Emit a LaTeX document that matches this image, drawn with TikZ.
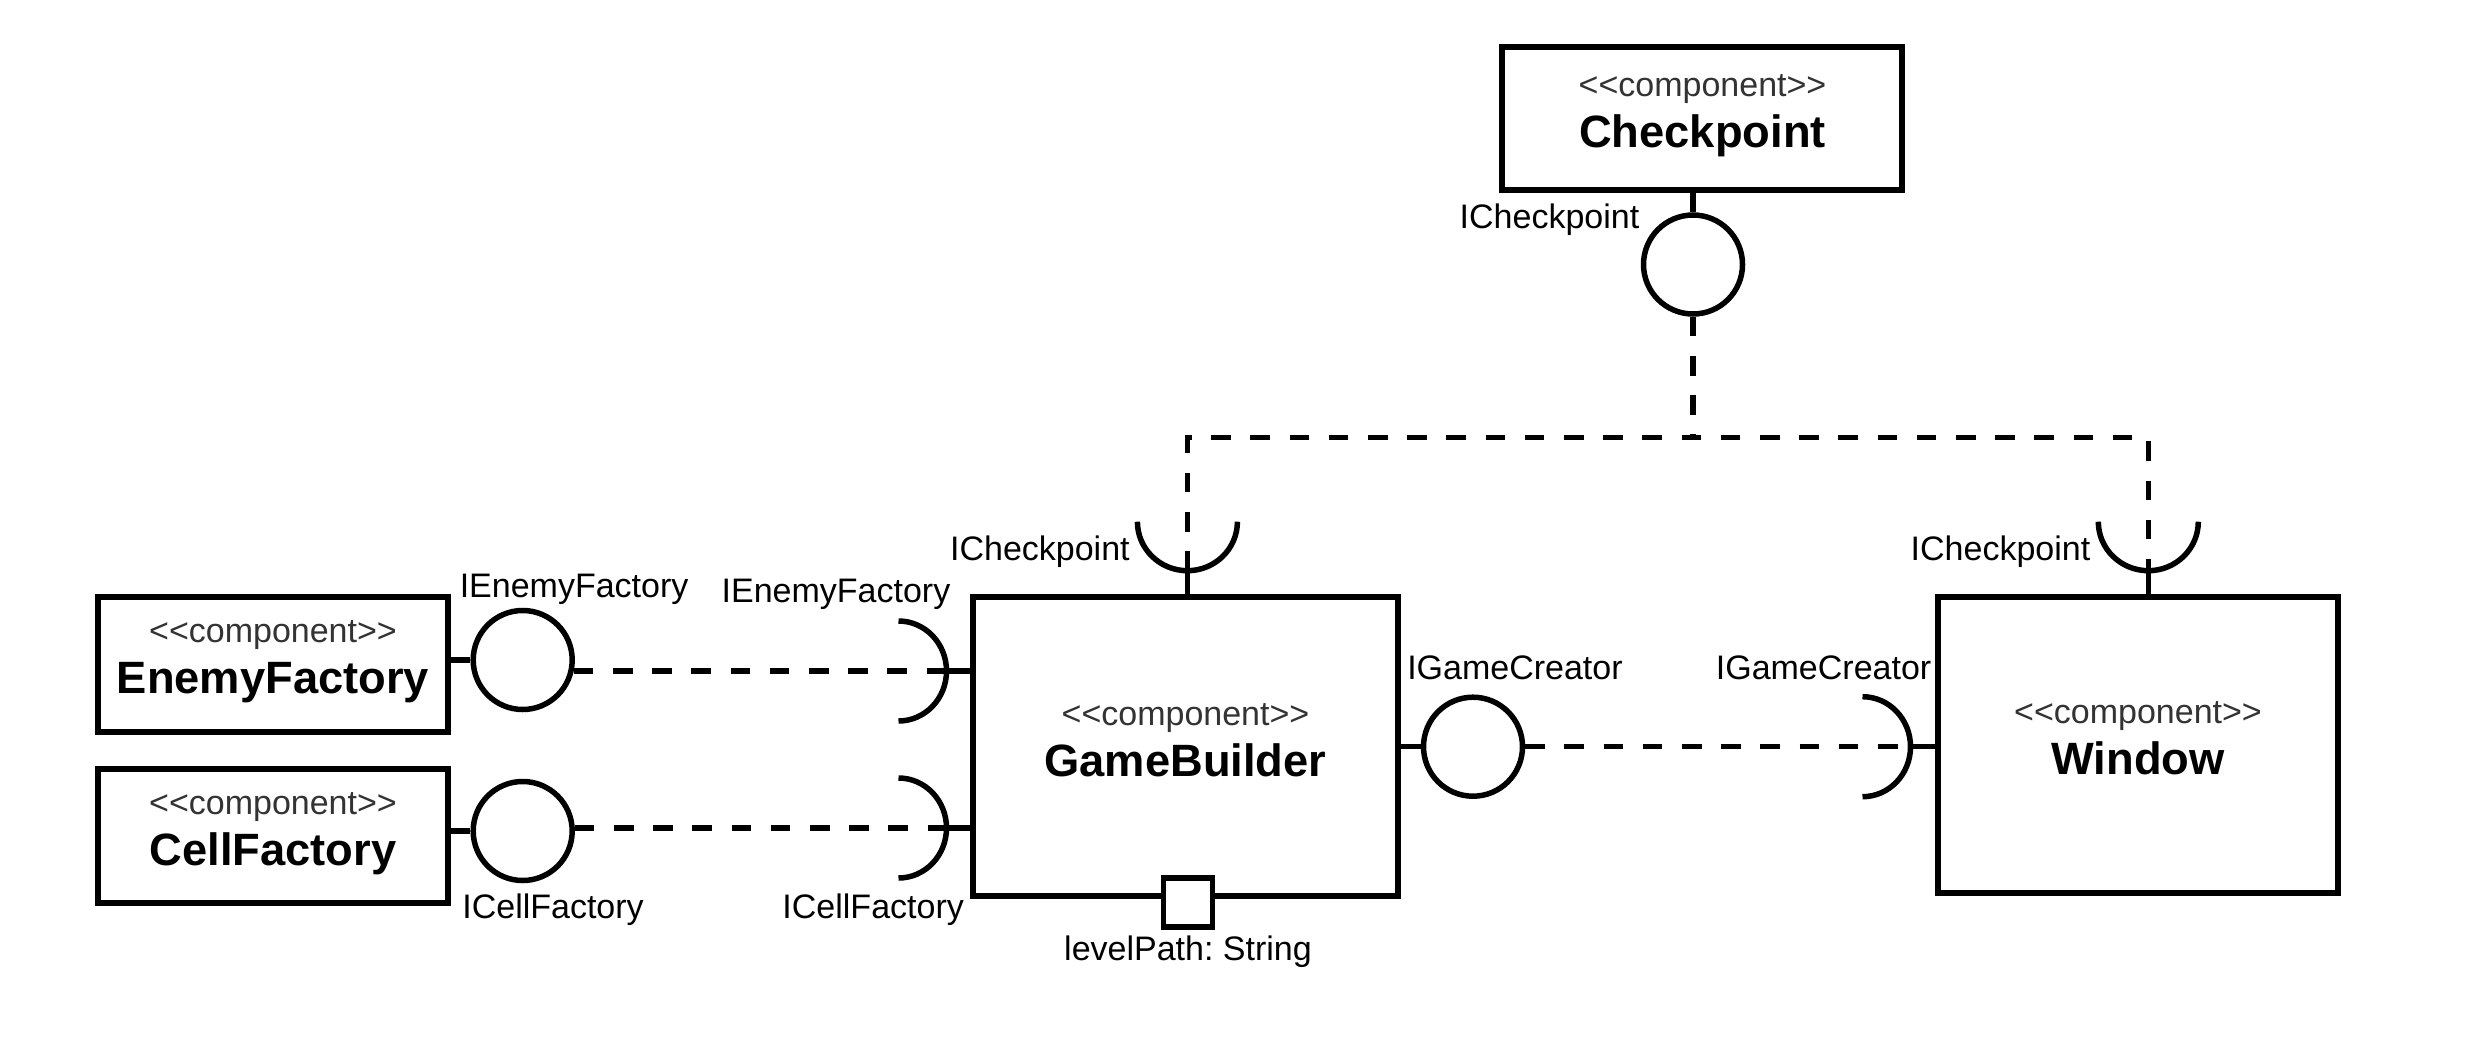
\documentclass[tikz,border=0pt]{standalone}
\usepackage{fontspec}
\setmainfont{Liberation Sans}
\usetikzlibrary{fit}
\definecolor{stereogray}{HTML}{333333}
\frenchspacing
\newcommand\lblfont{\fontsize{34}{40}\selectfont}
\newcommand\namefont{\fontsize{45.3}{52}\selectfont\bfseries}
\newcommand\stereotext{\textless\kern0pt\textless\kern0pt component\kern0pt\textgreater\kern0pt\textgreater}
\begin{document}
\begin{tikzpicture}[x=1pt,y=1pt,line width=5.5pt,
  every node/.style={inner sep=0pt},
  comp/.style={draw,rectangle,inner sep=0pt,line width=5.5pt},
  lolli/.style={draw,circle,minimum size=99pt,inner sep=0pt,fill=white,line width=5.5pt},
  portbox/.style={draw,rectangle,minimum size=49pt,inner sep=0pt,fill=white,line width=5.5pt},
  dep/.style={line width=5.5pt,dash pattern=on 19.6pt off 19.6pt},
  lab/.style={font=\lblfont,text=black},
  stereo/.style={font=\lblfont,text=stereogray,anchor=base},
  cname/.style={font=\namefont,text=black,anchor=base}]
\fill[white] (0,0) rectangle (2476,-1038);
\path[use as bounding box] (0,0) rectangle (2476,-1038);

% component boxes
\node[comp,fit={(1502,-47) (1902,-190)}] (cp) {};
\node[comp,fit={(98,-597) (448,-732)}] (ef) {};
\node[comp,fit={(98,-769) (448,-903)}] (cf) {};
\node[comp,fit={(973,-597) (1398,-896)}] (gb) {};
\node[comp,fit={(1938,-597) (2338,-893)}] (win) {};

\node[stereo] (cpst) at (1702.5,-96.5) {\stereotext};
\node[cname] (cpnm) at (1702.5,-147.5) {Checkpoint};
\node[stereo] (efst) at (273,-642.5) {\stereotext};
\node[cname] (efnm) at (273,-693.5) {EnemyFactory};
\node[stereo] (cfst) at (273,-814) {\stereotext};
\node[cname] (cfnm) at (273,-865) {CellFactory};
\node[stereo] (gbst) at (1185.5,-725) {\stereotext};
\node[cname] (gbnm) at (1185.5,-776) {GameBuilder};
\node[stereo] (winst) at (2138,-723) {\stereotext};
\node[cname] (winnm) at (2138,-774) {Window};

% provided interfaces (lollipops)
\node[lolli] (cpl) at (1693,-264.5) {};
\node[lolli] (efl) at (522.7,-660) {};
\node[lolli] (cfl) at (522.7,-831) {};
\node[lolli] (igl) at (1473,-746.7) {};

\draw (cpl.north) -- (cpl.north |- cp.south);
\draw (efl.west) -- (efl.west -| ef.east);
\draw (cfl.west) -- (cfl.west -| cf.east);
\draw (igl.west) -- (igl.west -| gb.east);

% required interfaces (sockets)
\coordinate (gbsk) at (1187.4,-570.7);
\coordinate (winsk) at (2148.3,-570.7);
\coordinate (efsk) at (946.5,-671);
\coordinate (cfsk) at (946.5,-828);
\coordinate (igsk) at (1910.5,-746.7);
\coordinate (jn) at (1693,-437.7);

\draw ([shift={(-50,49)}]gbsk) arc[start angle=180,end angle=360,x radius=50,y radius=49];
\draw ([shift={(-50,49)}]winsk) arc[start angle=180,end angle=360,x radius=50,y radius=49];
\draw ([shift={(-48,50)}]efsk) arc[start angle=90,end angle=-90,x radius=48,y radius=50];
\draw ([shift={(-48,50)}]cfsk) arc[start angle=90,end angle=-90,x radius=48,y radius=50];
\draw ([shift={(-48,50)}]igsk) arc[start angle=90,end angle=-90,x radius=48,y radius=50];

\draw (gbsk) -- (gbsk |- gb.north);
\draw (winsk) -- (winsk |- win.north);
\draw (efsk) -- (efsk -| gb.west);
\draw (cfsk) -- (cfsk -| gb.west);
\draw (igsk) -- (igsk -| win.west);

% dependencies
\draw[dep] (efl.-12 |- efsk) -- (efsk);
\draw[dep] (cfl.4 |- cfsk) -- (cfsk);
\draw[dep] (igl.east) -- (igsk);
\draw[dep] (cpl.south) -- (jn);
\draw[dep] (gbsk) |- (jn) -| (winsk);

% port
\node[portbox] (port) at (1188,-902.3) {};

% labels
\node[lab,anchor=base east] (lcp1) at (1642,-228.5) {ICheckpoint};
\node[lab,anchor=base east] (lcp2) at (1132.4,-560.5) {ICheckpoint};
\node[lab,anchor=base east] (lcp3) at (2093,-560) {ICheckpoint};
\node[lab,anchor=base west] (lef1) at (457,-597) {IEnemyFactory};
\node[lab,anchor=base east] (lef2) at (953,-602) {IEnemyFactory};
\node[lab,anchor=base west] (lcf1) at (459.6,-918) {ICellFactory};
\node[lab,anchor=base east] (lcf2) at (966.6,-918) {ICellFactory};
\node[lab,anchor=base west] (lig1) at (1404.5,-679) {IGameCreator};
\node[lab,anchor=base east] (lig2) at (1934,-679) {IGameCreator};
\node[lab,anchor=base] (llp) at (1188,-960) {levelPath: String};
\end{tikzpicture}
\end{document}
